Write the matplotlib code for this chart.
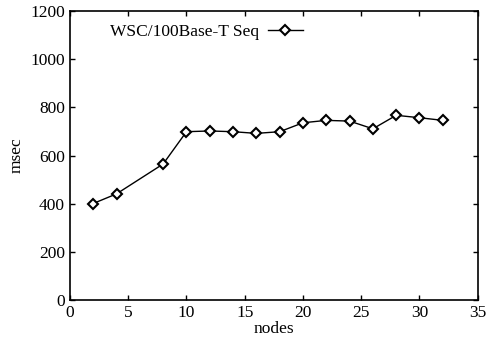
import matplotlib
matplotlib.use("Agg")
import matplotlib.pyplot as plt

nodes = [2, 4, 8, 10, 12, 14, 16, 18, 20, 22, 24, 26, 28, 30, 32]
msec = [401, 441, 565, 699, 702, 699, 692, 699, 736, 746, 743, 711, 767, 757, 746]
label = "WSC/100Base-T Seq"

plt.rcParams['font.family'] = ['Liberation Serif', 'DejaVu Serif']
fig = plt.figure(figsize=(4.89, 3.43), dpi=100)
ax = fig.add_axes([0.143, 0.125, 0.834, 0.843])
ax.plot(nodes, msec, color='black', lw=1.0, marker='D', markersize=5.5,
        markerfacecolor='white', markeredgecolor='black', markeredgewidth=1.5, label=label)
ax.set_xlim(0, 35)
ax.set_ylim(0, 1200)
ax.set_xticks(range(0, 36, 5))
ax.set_yticks(range(0, 1201, 200))
ax.tick_params(direction='in', top=True, right=True, labelsize=12.5, length=3.5, width=1)
for s in ax.spines.values():
    s.set_linewidth(1.2)
ax.set_xlabel('nodes', fontsize=12.5, labelpad=0)
ax.set_ylabel('msec', fontsize=12.5, labelpad=4)
ax.legend(loc='upper left', bbox_to_anchor=(0.06, 1.01), frameon=False, markerfirst=False,
          fontsize=12.5, handlelength=2.0, handletextpad=0.5)
fig.savefig('out.png', dpi=100)
